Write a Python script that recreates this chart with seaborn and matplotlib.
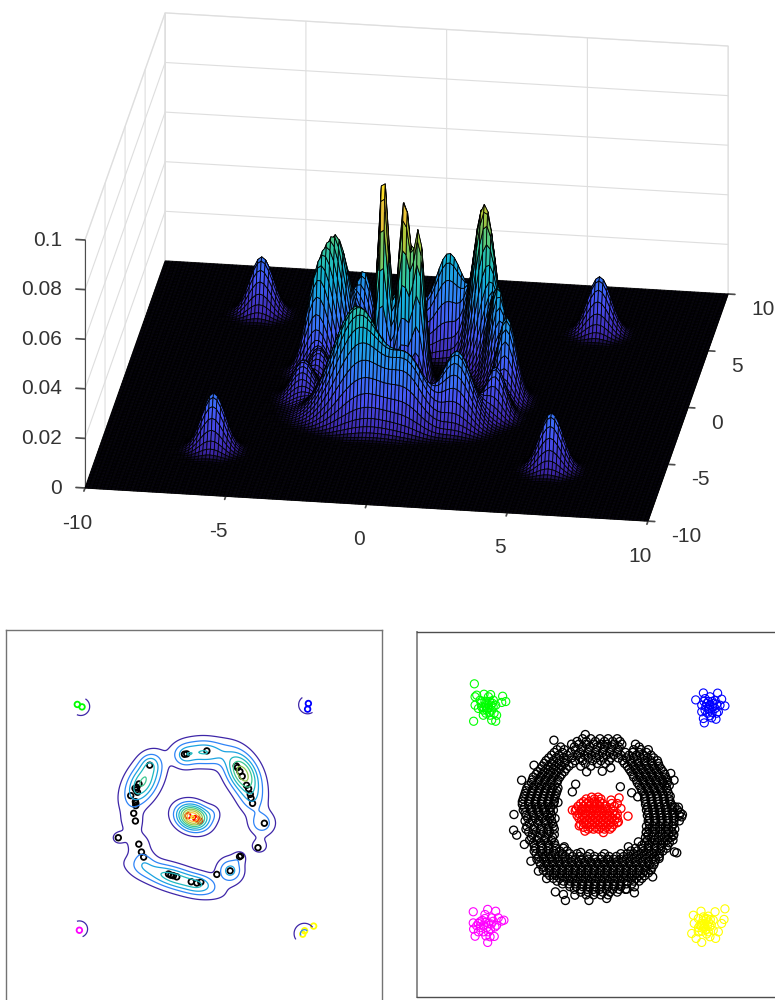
import numpy as np
import pandas as pd
import matplotlib
matplotlib.use('Agg')
import matplotlib.pyplot as plt
from matplotlib.colors import LinearSegmentedColormap
from mpl_toolkits.mplot3d import proj3d
import seaborn as sns

# Tick labels
tick_vals = [-10, -5, 0, 5, 10]
tick_labels = ['-10', '-5', '0', '5', '10']
z_vals = [0, 0.02, 0.04, 0.06, 0.08, 0.1]
z_labels = ['0', '0.02', '0.04', '0.06', '0.08', '0.1']

# Surface bumps: centre, long/short width, angle, height
surf_x = [-6, -6, 6, 6, -0.87, -0.1, 0.45, -0.2, 2.4, 3.1, 1.0, -0.4, 3.6, 3.45, 2.2, -1.3, 0.6, -2.75, -3.4, -1.9, -3.5, -3.1]
surf_y = [-6, 6, -6, 6, 0.3, 0.2, 0.0, 0.1, 2.55, 1.1, 3.5, 3.4, -0.3, -1.9, -2.8, -3.0, -3.3, 1.9, 1.2, 3.0, -1.1, 0.1]
surf_a = [0.42, 0.42, 0.42, 0.42, 0.4, 0.4, 0.4, 0.7, 0.6, 0.5, 0.55, 0.4, 0.5, 0.4, 0.55, 0.95, 0.6, 0.6, 0.45, 0.4, 0.5, 0.35]
surf_b = [0.42, 0.42, 0.42, 0.42, 0.2, 0.2, 0.2, 0.7, 0.38, 0.3, 0.4, 0.4, 0.35, 0.35, 0.5, 0.55, 0.4, 0.4, 0.4, 0.33, 0.4, 0.35]
surf_ang = [0, 0, 0, 0, 90, 90, 90, 0, -60, -70, 0, 0, 90, 90, 0, -15, 0, 60, 90, 90, 90, 0]
surf_h = [0.0226, 0.0226, 0.0226, 0.0226, 0.077, 0.062, 0.055, 0.014, 0.065, 0.037, 0.04, 0.025, 0.033, 0.02, 0.03, 0.047, 0.024, 0.05, 0.027, 0.03, 0.015, 0.012]

# Contour panel bumps
cont_x = [-6.0, 6.07, -6.07, 5.9, -0.05, 1.0, 2.6, 3.1, -2.7, -2.3, 0.6, -0.5, 3.64, 3.5, 1.95, 2.45, -1.0, 0.4, -2.9, -3.25, -4.0, -2.65]
cont_y = [5.93, 6.02, -5.91, -6.15, 0.05, 0.25, 2.4, 1.0, 1.9, 2.9, 3.5, 3.3, -0.28, -1.5, -2.8, -2.1, -3.2, -3.5, -1.4, -0.2, -1.05, -2.3]
cont_a = [0.46, 0.46, 0.42, 0.35, 0.55, 0.3, 0.8, 0.6, 0.9, 0.35, 0.8, 0.4, 0.4, 0.3, 0.42, 0.25, 1.35, 0.5, 0.45, 0.42, 0.3, 0.4]
cont_b = [0.46, 0.46, 0.42, 0.35, 0.42, 0.3, 0.5, 0.45, 0.5, 0.35, 0.45, 0.4, 0.42, 0.35, 0.42, 0.25, 0.4, 0.35, 0.45, 0.42, 0.28, 0.4]
cont_ang = [0, 0, 0, 0, -20, 0, -60, -70, 60, 60, -3, 0, 90, 90, 0, 0, -17, 0, 60, 90, 0, 0]
cont_h = [0.006, 0.006, 0.006, 0.012, 0.06, 0.006, 0.042, 0.012, 0.032, 0.01, 0.024, 0.014, 0.015, 0.006, 0.02, 0.006, 0.028, 0.009, 0.0065, 0.0065, 0.005, 0.008]
cont_levels = [0.0035, 0.01, 0.017, 0.024, 0.031, 0.038, 0.045, 0.052, 0.059]
cont_shades = [0.0, 0.28, 0.38, 0.48, 0.58, 0.68, 0.76, 0.84, 0.94]
# the corner arcs are only half drawn: direction of the visible half, degrees
arc_x = [-6.0, 6.07, -6.07, 5.9]
arc_y = [5.93, 6.02, -5.91, -6.15]
arc_keep = [-30, 215, 20, 125]

# Points of the contour panel
few_black_x = [-4.0, -2.91, -2.77, -2.65, -3.18, -3.09, -3.34, -3.07, -3.07, -3.09, -2.33, -2.9, -3.02, -3.05, -2.98, -3.11, -0.48, -0.36, 0.71, 2.27, 2.34, 2.47, 2.59, 2.82, 2.93, 3.02, 3.06, 3.14, 3.77, 3.43, 2.45, 2.52, 1.95, 1.24, 0.39, 0.18, -0.12, -0.89, -1.07, -1.21, -1.33]
few_black_y = [-1.05, -1.39, -1.81, -2.08, 0.25, -0.16, 1.19, 0.78, 0.66, 0.87, 2.81, 1.81, 1.63, 1.49, 1.37, 1.58, 3.39, 3.41, 3.57, 2.77, 2.68, 2.47, 2.22, 1.74, 1.56, 1.26, 1.05, 0.78, -0.28, -1.58, -2.06, -2.01, -2.81, -3.0, -3.41, -3.46, -3.39, -3.13, -3.07, -3.04, -2.98]
few_red_x = [-0.3, 0.12, 0.21, 0.34]
few_red_y = [0.12, -0.02, -0.07, -0.16]
few_green_x = [-6.18, -5.93]
few_green_y = [6.04, 5.91]
few_blue_x = [6.11, 6.07]
few_blue_y = [6.09, 5.79]
few_magenta_x = [-6.07]
few_magenta_y = [-5.97]
few_yellow_x = [6.39, 5.91, 5.81]
few_yellow_y = [-5.75, -6.0, -6.18]

# Scatter panel: black ring, read row by row
ring_rows_y = [4.15, 4.0, 3.85, 3.7, 3.55, 3.4, 3.25, 3.1, 2.95, 2.8, 2.65, 2.5, 2.35, 2.2, 2.05, 1.9, 1.75, 1.6, 1.45, 1.3, 1.15, 1.0, 0.85, 0.7, 0.55, 0.4, 0.25, 0.1, -0.05, -0.2, -0.35, -0.5, -0.65, -0.8, -0.95, -1.1, -1.25, -1.4, -1.55, -1.7, -1.85, -2.0, -2.15, -2.3, -2.45, -2.6, -2.75, -2.9, -3.05, -3.2, -3.35, -3.5, -3.65, -3.8, -3.95, -4.1, -4.25, -4.4]
ring_rows_x = [
    [-0.9, -0.45, 0.05, 0.5, 1.0],
    [-1.2, -0.7, -0.2, 0.3, 0.75, 1.15],
    [-1.5, -1.1, -0.7, -0.3, 0.1, 0.45, 0.85, 1.25, 2.0],
    [-2.1, -1.35, -0.9, -0.5, -0.1, 0.3, 0.7, 1.1, 2.2],
    [-2.3, -1.9, -1.3, -0.95, -0.55, -0.15, 0.25, 0.65, 1.05, 1.9, 2.3, 2.7],
    [-2.45, -2.0, -1.55, -1.05, -0.6, -0.2, 0.2, 0.6, 1.0, 1.45, 1.85, 2.2, 2.6],
    [-2.6, -2.2, -1.75, -1.2, -0.8, -0.4, 0, 0.4, 0.8, 1.2, 1.65, 2.05, 2.45, 2.85],
    [-2.75, -2.35, -1.95, -1.5, -1.0, -0.6, -0.15, 0.25, 0.65, 1.05, 1.5, 1.9, 2.3, 2.65, 3.0],
    [-2.9, -2.5, -2.15, -1.8, -1.3, -0.9, -0.35, 0.1, 0.55, 1.3, 1.7, 2.1, 2.5, 2.85, 3.2],
    [-3.0, -2.6, -2.25, -1.9, -1.45, -0.75, -0.1, 0.35, 1.4, 1.8, 2.15, 2.5, 2.9, 3.25],
    [-3.1, -2.75, -2.4, -2.05, -1.65, -1.0, -0.45, 1.55, 1.9, 2.25, 2.6, 2.95, 3.3],
    [-3.2, -2.85, -2.5, -2.15, -1.8, 1.65, 2.0, 2.35, 2.7, 3.05, 3.4],
    [-3.35, -3.0, -2.65, -2.3, -1.9, 1.75, 2.1, 2.45, 2.8, 3.15, 3.5],
    [-3.45, -3.1, -2.75, -2.4, -2.05, 1.85, 2.2, 2.55, 2.9, 3.25, 3.6],
    [-3.6, -3.2, -2.85, -2.5, -2.15, 1.9, 2.25, 2.6, 2.95, 3.3, 3.65],
    [-3.65, -3.3, -2.95, -2.6, -2.25, 2.05, 2.4, 2.75, 3.1, 3.45, 3.75],
    [-3.7, -3.35, -3.0, -2.65, -2.3, 2.1, 2.45, 2.8, 3.15, 3.5, 3.75],
    [-3.85, -3.5, -3.15, -2.8, -2.45, 2.2, 2.55, 2.9, 3.25, 3.6, 3.85],
    [-3.95, -3.6, -3.25, -2.9, -2.55, -2.25, 2.3, 2.65, 3.0, 3.35, 3.7],
    [-4.0, -3.65, -3.3, -2.95, -2.6, -2.3, 2.35, 2.7, 3.05, 3.4, 3.75],
    [-4.05, -3.7, -3.35, -3.0, -2.65, -2.35, 2.45, 2.8, 3.15, 3.5, 3.8],
    [-4.1, -3.75, -3.4, -3.05, -2.7, -2.4, 2.5, 2.85, 3.2, 3.55, 3.9],
    [-4.15, -3.8, -3.45, -3.1, -2.75, -2.45, 2.5, 2.85, 3.2, 3.55, 3.85],
    [-4.2, -3.85, -3.5, -3.15, -2.8, -2.45, 2.55, 2.9, 3.25, 3.6, 3.9],
    [-4.2, -3.85, -3.5, -3.15, -2.8, -2.5, 2.55, 2.9, 3.25, 3.6, 3.95],
    [-4.1, -3.7, -3.35, -3.0, -2.65, 2.65, 3.0, 3.35, 3.7, 4.05, 4.35],
    [-4.15, -3.75, -3.4, -3.05, -2.7, 2.6, 2.95, 3.3, 3.65, 4.0, 4.3],
    [-4.05, -3.65, -3.3, -2.95, -2.65, 2.7, 3.05, 3.4, 3.75, 4.1, 4.45],
    [-4.0, -3.6, -3.25, -2.85, -2.6, 2.65, 3.0, 3.35, 3.7, 4.05, 4.4],
    [-3.9, -3.5, -3.1, -2.7, 2.75, 3.1, 3.45, 3.8, 4.15],
    [-4.05, -3.65, -3.3, -2.95, -2.6, 2.7, 3.05, 3.4, 3.75, 4.1, 4.4],
    [-3.8, -3.35, -2.95, -2.55, 2.75, 3.1, 3.45, 3.8, 4.1],
    [-3.95, -3.55, -3.15, -2.75, -2.5, 2.6, 2.95, 3.3, 3.65, 4.0],
    [-4.0, -3.6, -3.2, -2.8, -2.45, 2.75, 3.1, 3.45, 3.8, 4.15],
    [-3.85, -3.45, -3.05, -2.7, 2.6, 2.95, 3.3, 3.65, 4.0],
    [-3.65, -3.2, -2.8, -2.45, 2.7, 3.05, 3.45, 3.8, 4.1],
    [-3.7, -3.35, -2.95, -2.55, 2.55, 2.9, 3.25, 3.6, 3.95],
    [-3.8, -3.4, -3.0, -2.6, 2.65, 3.05, 3.4, 3.75, 4.05],
    [-3.6, -3.2, -2.85, -2.45, 2.5, 2.85, 3.2, 3.55, 3.85],
    [-3.55, -3.15, -2.75, -2.4, 2.35, 2.7, 3.05, 3.4, 3.75],
    [-3.5, -3.1, -2.75, -2.35, -1.95, 2.0, 2.35, 2.7, 3.05, 3.4, 3.7],
    [-3.55, -3.2, -2.85, -2.5, -2.15, -1.75, 1.75, 2.1, 2.45, 2.8, 3.15, 3.5],
    [-3.45, -3.1, -2.75, -2.4, -2.0, -1.6, -1.2, -0.5, 0.3, 1.2, 1.55, 1.9, 2.25, 2.6, 2.95, 3.3],
    [-3.3, -2.95, -2.6, -2.2, -1.85, -1.45, -1.05, -0.65, -0.25, 0.15, 0.55, 0.95, 1.35, 1.7, 2.05, 2.4, 2.75, 3.05, 3.3],
    [-3.4, -3.05, -2.7, -2.35, -2.0, -1.65, -1.3, -0.95, -0.6, -0.25, 0.1, 0.45, 0.8, 1.15, 1.5, 1.85, 2.2, 2.55, 2.9, 3.1],
    [-3.25, -2.9, -2.55, -2.2, -1.85, -1.5, -1.15, -0.8, -0.45, -0.1, 0.25, 0.6, 0.95, 1.3, 1.65, 2.0, 2.35, 2.7, 3.05],
    [-3.2, -2.85, -2.5, -2.15, -1.8, -1.45, -1.1, -0.75, -0.4, -0.05, 0.3, 0.65, 1.0, 1.35, 1.7, 2.05, 2.4, 2.75, 3.0],
    [-3.05, -2.7, -2.35, -2.0, -1.65, -1.3, -0.95, -0.6, -0.25, 0.1, 0.45, 0.8, 1.15, 1.5, 1.85, 2.2, 2.55, 2.9],
    [-3.05, -2.7, -2.35, -2.0, -1.65, -1.3, -0.95, -0.6, -0.25, 0.1, 0.45, 0.8, 1.15, 1.5, 1.85, 2.2, 2.55, 2.85],
    [-2.85, -2.5, -2.15, -1.8, -1.45, -1.1, -0.75, -0.4, -0.05, 0.3, 0.65, 1.0, 1.35, 1.7, 2.05, 2.4, 2.7],
    [-2.7, -2.35, -2.0, -1.65, -1.3, -0.95, -0.6, -0.25, 0.1, 0.45, 0.8, 1.15, 1.5, 1.85, 2.2, 2.5],
    [-2.5, -2.15, -1.8, -1.45, -1.1, -0.75, -0.4, -0.05, 0.3, 0.65, 1.0, 1.35, 1.7, 2.05, 2.35],
    [-2.3, -1.95, -1.6, -1.25, -0.9, -0.55, -0.2, 0.15, 0.5, 0.85, 1.2, 1.55, 1.9, 2.2],
    [-2.0, -1.65, -1.3, -0.95, -0.6, -0.25, 0.1, 0.45, 0.8, 1.15, 1.5, 1.8],
    [-1.6, -1.25, -0.9, -0.55, -0.2, 0.15, 0.5, 0.85, 1.2],
    [-1.35, -1.0, -0.65, -0.3, 0.05, 0.4, 0.75, 1.1, 1.45],
    [-1.0, -0.6, -0.2, 0.2, 0.6, 1.0],
    [-0.7, -0.3, 0.1, 0.5],
]
fringe_x = [-2.47, -0.75, -4.66, -4.68, -4.51, -4.09, -4.24, -3.56, -3.73, -3.32, -2.87, -2.39, -1.95, -1.84, -1.32, -0.55, 0.42, 1.52, 1.94, 1.94, 2.94, 3.29, 4.13, 4.26, 4.07, 4.53, 4.57, 4.16, 4.11, 3.93, 0.18, 0.64, -0.68, 1.17, -1.28, -1.46, 1.79, 2.12, 2.59, -2.25, -2.5, -2.41, -1.9, -1.0, 0.47, 1.61, 2.16]
fringe_y = [4.07, 4.38, 0, -0.86, -1.13, -1.64, 1.88, 2.7, -2.56, -3.1, -3.51, -4.24, -4.38, -4.71, -4.42, -4.71, -4.6, -4.09, -3.96, -4.29, -3.42, -2.41, -2.05, -2.1, -1.17, -0.13, 0, 0.42, 1.88, 2.25, 2.37, 2.56, 2.34, 1.52, 1.66, 1.24, 1.19, 0.97, -1.0, 0.66, 0.24, -0.22, -1.77, -2.08, -2.45, -1.77, -1.5]

red_rows_y = [0.95, 0.85, 0.7, 0.6, 0.45, 0.3, 0.2, 0.05, -0.05, -0.2, -0.3, -0.45, -0.55, -0.7, -0.8]
red_rows_x = [
    [-0.4, -0.05],
    [-0.7, -0.25, 0.1],
    [-0.85, -0.55, -0.25, 0.05],
    [-1.0, -0.7, -0.4, -0.1, 0.2, 0.7, 1.0],
    [-1.15, -0.85, -0.55, -0.25, 0.05, 0.35, 0.85],
    [-1.25, -0.9, -0.55, -0.25, 0.05, 0.35, 0.65],
    [-1.3, -1.0, -0.7, -0.4, -0.1, 0.2, 0.5, 0.8],
    [-1.1, -0.75, -0.45, -0.15, 0.15, 0.45, 0.75, 1.0],
    [-1.2, -0.9, -0.6, -0.3, 0, 0.3, 0.6, 0.9],
    [-1.1, -0.8, -0.5, -0.2, 0.1, 0.4, 0.7, 1.0],
    [-0.95, -0.65, -0.35, -0.05, 0.25, 0.55, 0.85],
    [-0.85, -0.55, -0.25, 0.05, 0.35, 0.65, 1.0],
    [-1.0, -0.7, -0.4, -0.1, 0.2, 0.5, 0.8],
    [-0.85, -0.5, -0.2, 0.1, 0.4, 0.7],
    [-0.6, -0.3, 0.0, 0.3, 0.6],
]
red_extra_x = [1.59, 1.10, 0.66, 1.2, -0.77, -1.08, -1.46, 0.24, 1.06]
red_extra_y = [-0.09, 0.91, 0.79, 0.33, -0.91, -0.62, 0.24, -0.99, -0.4]

green_x = [-6.83, -6.87, -5.28, -5.11, -5.66, -5.88, -6.7, -6.79, -6.3, -5.94, -6.79, -5.61, -6.34, -6.06, -6.52, -5.79, -6.16, -5.88, -6.43, -5.66, -5.33, -6.61, -6.25, -5.97, -6.06, -6.34, -5.92, -6.2, -6.2, -6.0, -5.85, -6.1, -6.3, -6.0, -6.2, -5.8, -6.45, -5.75]
green_y = [7.16, 5.11, 6.48, 6.19, 5.11, 5.17, 6.54, 6.45, 6.59, 6.57, 5.99, 5.44, 5.44, 5.99, 6.26, 6.26, 5.72, 5.72, 5.9, 5.99, 6.14, 5.81, 6.21, 5.44, 6.45, 5.72, 5.99, 5.95, 6.1, 6.2, 6.1, 5.85, 5.85, 5.6, 5.55, 5.9, 6.1, 5.55]
blue_x = [5.3, 5.72, 6.5, 6.72, 6.9, 5.72, 5.77, 6.17, 6.41, 5.63, 5.81, 6.08, 6.36, 6.63, 6.08, 5.81, 6.36, 6.08, 5.63, 6.54, 5.9, 6.26, 5.99, 6.0, 6.2, 5.85, 6.05, 6.25, 6.45, 5.75, 6.2, 5.95, 6.45]
blue_y = [6.28, 6.66, 6.65, 6.32, 5.95, 5.26, 5.02, 5.3, 5.22, 5.99, 6.35, 6.45, 6.26, 5.99, 5.99, 5.72, 5.81, 5.41, 5.63, 5.63, 6.08, 6.08, 5.77, 6.2, 6.2, 5.9, 5.8, 5.9, 6.05, 6.2, 5.6, 5.55, 5.55]
magenta_x = [-6.89, -6.1, -5.66, -5.21, -6.1, -6.79, -5.74, -6.89, -6.87, -6.52, -6.25, -5.88, -5.52, -5.61, -6.06, -6.34, -6.61, -6.06, -6.34, -5.97, -5.7, -5.34, -6.61, -6.25, -6.4, -6.15, -5.9, -6.5, -6.7, -5.8, -6.2, -5.95, -6.2]
magenta_y = [-5.33, -5.2, -5.3, -5.79, -7.01, -6.67, -6.68, -5.94, -6.28, -5.88, -5.48, -5.66, -5.66, -6.07, -5.97, -6.07, -5.97, -6.43, -6.43, -6.7, -6.16, -5.84, -6.43, -5.7, -5.8, -6.2, -6.0, -6.2, -6.1, -5.85, -5.9, -6.3, -6.65]
yellow_x = [6.9, 6.85, 6.36, 5.17, 5.59, 5.08, 5.32, 5.63, 6.39, 6.54, 6.72, 5.22, 5.44, 5.72, 5.99, 6.26, 5.53, 5.81, 6.08, 5.72, 5.99, 5.44, 6.26, 6.08, 5.81, 5.63, 5.9, 5.7, 5.85, 6.0, 5.6, 5.75, 5.95, 5.85, 5.65, 6.15, 5.45, 6.1, 5.9]
yellow_y = [-5.17, -5.75, -5.33, -5.52, -5.3, -6.52, -6.79, -7.01, -6.79, -6.43, -5.97, -5.97, -5.7, -5.61, -5.57, -5.79, -6.07, -5.97, -6.15, -6.25, -6.43, -6.43, -6.35, -6.7, -6.15, -5.97, -5.7, -5.8, -5.75, -5.9, -6.1, -6.05, -6.1, -6.3, -6.4, -6.05, -6.2, -5.75, -6.55]

parula_colors = [(0.2422, 0.1504, 0.6603), (0.2810, 0.3228, 0.9579), (0.1786, 0.5289, 0.9682), (0.0689, 0.6948, 0.8394),
                 (0.2161, 0.7843, 0.5923), (0.6720, 0.7793, 0.2227), (0.9970, 0.7659, 0.2199), (0.9769, 0.9839, 0.0805)]
parula = LinearSegmentedColormap.from_list('parula', parula_colors)
# the flat floor reads as near black under the dense mesh
surface_stops = [(0.0, (0.03, 0.02, 0.08))] + [(0.03 + 0.97 * i / 7, c) for i, c in enumerate(parula_colors)]
surface_cmap = LinearSegmentedColormap.from_list('parula_floor', surface_stops)


def bumps(X, Y, xs, ys, wa, wb, angs, hs):
    Z = np.zeros_like(X)
    for x0, y0, a, b, ang, h in zip(xs, ys, wa, wb, angs, hs):
        t = np.deg2rad(ang)
        u = (X - x0) * np.cos(t) + (Y - y0) * np.sin(t)
        v = -(X - x0) * np.sin(t) + (Y - y0) * np.cos(t)
        Z += h * np.exp(-0.5 * ((u / a) ** 2 + (v / b) ** 2))
    return Z


def rows_to_frame(rows_y, rows_x, extra_x, extra_y):
    xs = [x for row in rows_x for x in row] + list(extra_x)
    ys = [y for y, row in zip(rows_y, rows_x) for _ in row] + list(extra_y)
    return pd.DataFrame({'x': xs, 'y': ys})


def open_circles(ax, x, y, color, s, lw):
    sns.scatterplot(x=x, y=y, ax=ax, s=s, facecolors='none', edgecolor=color, linewidth=lw, legend=False)


sns.set_theme(style='white')
plt.rcParams['font.family'] = ['Liberation Sans', 'DejaVu Sans']
plt.rcParams['axes.unicode_minus'] = False

W, H = 775, 1000
fig = plt.figure(figsize=(W / 100, H / 100), dpi=100)

# 3D panel
ax3 = fig.add_axes([0.1, 0.4, 0.8, 0.62], projection='3d')
ax3.set_proj_type('ortho')
ax3.view_init(elev=24.1, azim=-81.8)
ax3.set_box_aspect((1, 0.988, 0.4776))
ax3.set_xlim(-10, 10, view_margin=0)
ax3.set_ylim(-10, 10, view_margin=0)
ax3.set_zlim(0, 0.1, view_margin=0)


def corner_px(x, y, z=0):
    vx, vy, _ = proj3d.proj_transform(x, y, z, ax3.get_proj())
    return ax3.transData.transform((vx, vy))


# line the floor up with its corners in the reference
target_a = np.array([85, H - 488.0])
target_b = np.array([648, H - 521.0])
side = 700.0
ax3.set_position([100 / W, 100 / H, side / W, side / H])
ax3.apply_aspect()
a, b = corner_px(-10, -10), corner_px(10, -10)
side *= np.linalg.norm(target_b - target_a) / np.linalg.norm(b - a)
ax3.set_position([100 / W, 100 / H, side / W, side / H])
ax3.apply_aspect()
a = corner_px(-10, -10)
shift = target_a - a
ax3.set_position([(100 + shift[0]) / W, (100 + shift[1]) / H, side / W, side / H])
ax3.apply_aspect()

grid_x = np.linspace(-10, 10, 151)
SX, SY = np.meshgrid(grid_x, grid_x)
SZ = bumps(SX, SY, surf_x, surf_y, surf_a, surf_b, surf_ang, surf_h)
ax3.plot_surface(SX, SY, SZ, rstride=1, cstride=1, cmap=surface_cmap, vmin=0, vmax=0.085, edgecolor='black',
                 linewidth=0.6, shade=False, antialiased=True)

ax3.set_xticks(tick_vals)
ax3.set_yticks(tick_vals)
ax3.set_zticks(z_vals)
ax3.set_xticklabels([])
ax3.set_yticklabels([])
ax3.set_zticklabels([])
ax3.zaxis._axinfo['juggled'] = (1, 2, 0)
for axis in (ax3.xaxis, ax3.yaxis, ax3.zaxis):
    axis.pane.set_facecolor('white')
    axis.pane.set_edgecolor('0.85')
    axis.line.set_color('0.3')
    axis.line.set_linewidth(0.8)
    axis._axinfo['grid'].update(color='0.87', linewidth=0.8)
    axis._axinfo['tick'].update(inward_factor=0.0, outward_factor=0.2)
# x and y ticks would otherwise point in under the floor
ax3.xaxis._axinfo['tick'].update(outward_factor=-0.17)
ax3.yaxis._axinfo['tick'].update(outward_factor=-0.15)
ax3.tick_params(axis='both', color='0.3')

label_style = dict(fontsize=15, color='0.2', va='center')
for val, text in zip(tick_vals, tick_labels):
    px, py = corner_px(val, -10)
    fig.text((px - 7.5) / W, (py - 35) / H, text, ha='center', **label_style)
    px, py = corner_px(10, val)
    fig.text((px + 23) / W, (py - 15.5) / H, text, ha='left', **label_style)
for val, text in zip(z_vals, z_labels):
    px, py = corner_px(-10, -10, val)
    fig.text((px - 23) / W, py / H, text, ha='right', **label_style)

# Contour panel
ax_c = fig.add_axes([5.5 / W, -6 / H, 376 / W, 376 / H])
grid_c = np.linspace(-10, 10, 401)
CX, CY = np.meshgrid(grid_c, grid_c)
CZ = bumps(CX, CY, cont_x, cont_y, cont_a, cont_b, cont_ang, cont_h)
hidden = np.zeros_like(CZ, dtype=bool)
for x0, y0, keep in zip(arc_x, arc_y, arc_keep):
    t = np.deg2rad(keep)
    near = np.hypot(CX - x0, CY - y0) < 1.5
    hidden |= near & ((CX - x0) * np.cos(t) + (CY - y0) * np.sin(t) < 0)
ax_c.contour(CX, CY, np.ma.array(CZ, mask=hidden), levels=cont_levels,
             colors=[parula(s) for s in cont_shades], linewidths=0.9)
open_circles(ax_c, few_black_x, few_black_y, 'black', 16, 1.3)
open_circles(ax_c, few_red_x, few_red_y, 'red', 16, 1.3)
open_circles(ax_c, few_green_x, few_green_y, 'lime', 16, 1.3)
open_circles(ax_c, few_blue_x, few_blue_y, 'blue', 16, 1.3)
open_circles(ax_c, few_magenta_x, few_magenta_y, 'magenta', 16, 1.3)
open_circles(ax_c, few_yellow_x, few_yellow_y, 'yellow', 16, 1.3)

# Scatter panel
ax_s = fig.add_axes([416.5 / W, 3 / H, 365 / W, 365 / H])
ring = rows_to_frame(ring_rows_y, ring_rows_x, fringe_x, fringe_y)
red = rows_to_frame(red_rows_y, red_rows_x, red_extra_x, red_extra_y)
open_circles(ax_s, ring['x'], ring['y'], 'black', 34, 0.95)
open_circles(ax_s, red['x'], red['y'], 'red', 34, 0.95)
open_circles(ax_s, green_x, green_y, 'lime', 34, 0.8)
open_circles(ax_s, blue_x, blue_y, 'blue', 34, 0.8)
open_circles(ax_s, magenta_x, magenta_y, 'magenta', 34, 0.8)
open_circles(ax_s, yellow_x, yellow_y, 'yellow', 34, 0.8)

for ax, edge in ((ax_c, '0.45'), (ax_s, '0.3')):
    ax.set_xlim(-10, 10)
    ax.set_ylim(-10, 10)
    ax.set_xticks([])
    ax.set_yticks([])
    ax.set_xlabel('')
    ax.set_ylabel('')
    for spine in ax.spines.values():
        spine.set_color(edge)
        spine.set_linewidth(1.0)
ax_s.spines['left'].set_color('0.55')
ax_s.spines['left'].set_linewidth(1.4)

fig.savefig('out.png', dpi=100)
